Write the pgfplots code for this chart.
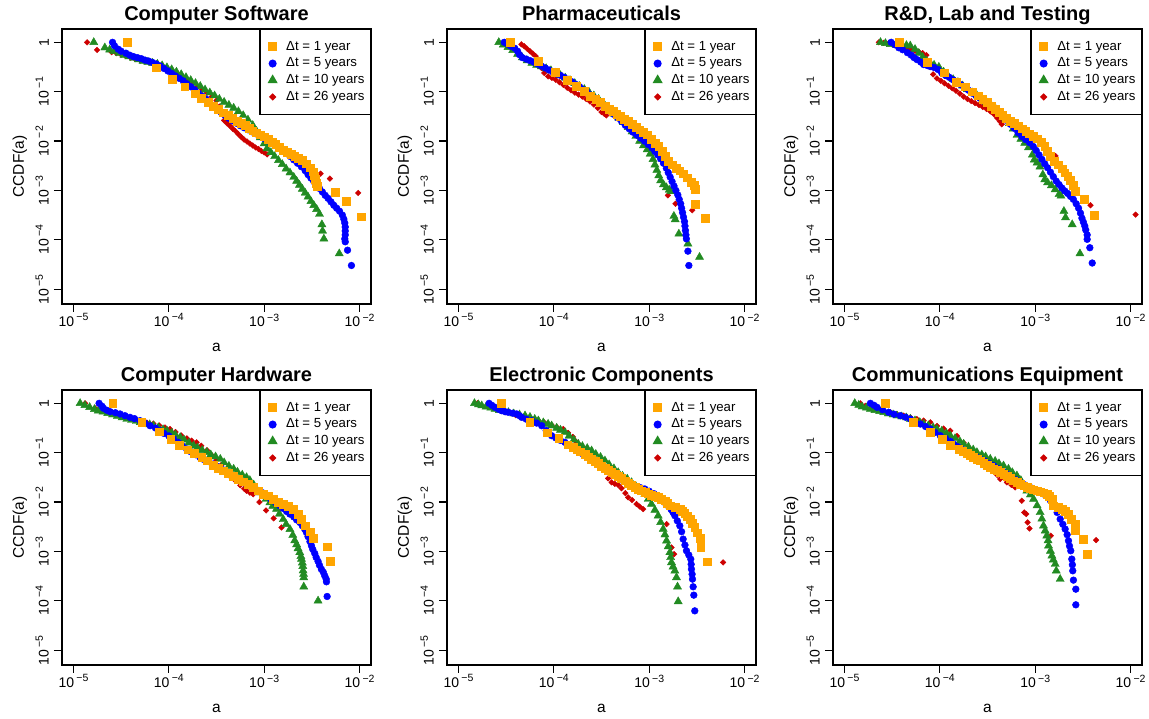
\documentclass[border=0pt]{standalone}
\usepackage{fontspec}
\setmainfont{Liberation Sans}
\usepackage{pgfplots}
\pgfplotsset{compat=1.18}
\definecolor{cOr}{RGB}{255,165,0}
\definecolor{cBl}{RGB}{0,0,255}
\definecolor{cGr}{RGB}{34,139,34}
\definecolor{cRd}{RGB}{205,0,0}
\newcommand{\tp}[1]{10\,\raisebox{0.42em}{\fontsize{10.5}{12}\selectfont −#1}}
\pgfplotsset{
  panel/.style={
    scale only axis, width=309pt, height=275pt,
    xmin=-5.12, xmax=-1.88, ymin=-5.3, ymax=0.27,
    xtick={-5,-4,-3,-2}, xticklabels={\tp{5},\tp{4},\tp{3},\tp{2}},
    ytick={-5,-4,-3,-2,-1,0}, yticklabels={\tp{5},\tp{4},\tp{3},\tp{2},\tp{1},1},
    tick align=outside, major tick length=8pt, tick pos=left,
    axis line style={line width=1.2pt}, tick style={line width=1.2pt, black},
    ticklabel style={font=\fontsize{14}{16}\selectfont},
    yticklabel style={rotate=90, anchor=south, inner ysep=5pt},
    xticklabel style={anchor=north, inner ysep=1.5pt},
    xlabel={a}, ylabel={CCDF(a)},
    label style={font=\fontsize{15.5}{18}\selectfont},
    xlabel style={at={(axis description cs:0.5,-0.1745)}, anchor=base},
    ylabel style={at={(axis description cs:-0.123,0.5)}, anchor=base},
    title style={at={(axis description cs:0.5,1)}, anchor=base, yshift=2.5pt, font=\fontsize{20}{22}\selectfont\bfseries},
    legend style={at={(axis description cs:1,1)}, anchor=north east, draw=black, line width=1.2pt,
      font=\fontsize{13.2}{15}\selectfont, inner xsep=6pt, inner ysep=10.5pt, row sep=3.2pt,
      nodes={inner sep=0pt, text height=10pt, text depth=3.5pt},
      /tikz/every odd column/.append style={column sep=7pt}},
    legend cell align=left, reverse legend,
    legend image code/.code={\path (-6pt,0pt) (6pt,0pt); \draw[##1] plot coordinates {(0pt,0pt)};},
  },
  sOR/.style={only marks, mark=square*, mark size=3.9pt, color=cOr, mark options={draw=none, fill=cOr}},
  sBL/.style={only marks, mark=*, mark size=3.4pt, color=cBl, mark options={draw=none, fill=cBl}},
  sGR/.style={only marks, mark=triangle*, mark size=4.7pt, color=cGr, mark options={draw=none, fill=cGr}},
  sRD/.style={only marks, mark=square*, mark size=2.0pt, color=cRd, mark options={draw=none, fill=cRd, rotate=45}},
}
\begin{document}
\begin{tikzpicture}
\useasboundingbox (0pt,0pt) rectangle (1149pt,718pt);
% ---------------- Panel 1
\begin{axis}[panel, at={(62pt,414pt)}, anchor=south west, title={Computer Software}]
\addplot[sRD] coordinates {(-4.857,0) (-4.752,-0.155) (-4.60,-0.20) (-4.55,-0.22) (-4.50,-0.25) (-4.45,-0.28) (-4.40,-0.31) (-4.35,-0.34) (-4.30,-0.37) (-4.25,-0.39) (-4.20,-0.41) (-4.15,-0.44) (-4.10,-0.48) (-4.05,-0.52) (-4.00,-0.57) (-3.95,-0.61) (-3.90,-0.66) (-3.85,-0.71) (-3.80,-0.77) (-3.75,-0.83) (-3.70,-0.90) (-3.65,-0.96) (-3.60,-1.02) (-3.55,-1.10) (-3.50,-1.18) (-3.47,-1.30) (-3.45,-1.45) (-3.42,-1.58) (-3.39,-1.64) (-3.36,-1.69) (-3.33,-1.75) (-3.30,-1.80) (-3.27,-1.86) (-3.24,-1.92) (-3.21,-1.97) (-3.18,-2.01) (-3.15,-2.05) (-3.12,-2.09) (-3.09,-2.13) (-3.06,-2.16) (-3.03,-2.20) (-3.00,-2.23) (-2.97,-2.27) (-2.409,-2.66) (-2.311,-2.76) (-2.014,-3.05)};
\addlegendentry{Δt = 26 years}
\addplot[sGR] coordinates {(-4.787,0) (-4.671,-0.108) (-4.62,-0.15) (-4.57,-0.18) (-4.52,-0.22) (-4.47,-0.26) (-4.42,-0.29) (-4.37,-0.32) (-4.32,-0.35) (-4.27,-0.38) (-4.22,-0.40) (-4.17,-0.42) (-4.12,-0.44) (-4.07,-0.47) (-4.02,-0.51) (-3.97,-0.55) (-3.92,-0.60) (-3.87,-0.65) (-3.82,-0.71) (-3.77,-0.77) (-3.72,-0.83) (-3.67,-0.89) (-3.62,-0.96) (-3.57,-1.02) (-3.52,-1.08) (-3.47,-1.15) (-3.42,-1.21) (-3.37,-1.27) (-3.32,-1.33) (-3.27,-1.40) (-3.22,-1.48) (-3.17,-1.57) (-3.12,-1.68) (-3.08,-1.80) (-3.04,-1.93) (-3.00,-2.05) (-2.97,-2.15) (-2.93,-2.23) (-2.89,-2.31) (-2.85,-2.39) (-2.81,-2.47) (-2.77,-2.56) (-2.73,-2.64) (-2.69,-2.73) (-2.66,-2.81) (-2.63,-2.89) (-2.60,-2.97) (-2.57,-3.05) (-2.54,-3.13) (-2.51,-3.22) (-2.48,-3.30) (-2.45,-3.38) (-2.42,-3.48) (-2.395,-3.69) (-2.388,-3.82) (-2.374,-3.98) (-2.213,-4.28)};
\addlegendentry{Δt = 10 years}
\addplot[sBL] coordinates {(-4.59,0) (-4.57,-0.07) (-4.53,-0.14) (-4.50,-0.18) (-4.45,-0.22) (-4.41,-0.26) (-4.37,-0.29) (-4.33,-0.31) (-4.29,-0.33) (-4.25,-0.36) (-4.21,-0.38) (-4.17,-0.41) (-4.13,-0.44) (-4.09,-0.48) (-4.05,-0.53) (-4.01,-0.58) (-3.97,-0.63) (-3.93,-0.68) (-3.89,-0.73) (-3.85,-0.78) (-3.81,-0.84) (-3.77,-0.90) (-3.73,-0.96) (-3.69,-1.03) (-3.65,-1.09) (-3.61,-1.15) (-3.57,-1.22) (-3.53,-1.30) (-3.49,-1.36) (-3.45,-1.42) (-3.41,-1.48) (-3.37,-1.54) (-3.33,-1.59) (-3.29,-1.64) (-3.25,-1.69) (-3.21,-1.73) (-3.17,-1.77) (-3.13,-1.81) (-3.09,-1.85) (-3.05,-1.89) (-3.01,-1.94) (-2.97,-1.99) (-2.93,-2.04) (-2.89,-2.08) (-2.85,-2.13) (-2.81,-2.19) (-2.77,-2.25) (-2.73,-2.31) (-2.69,-2.38) (-2.65,-2.45) (-2.61,-2.52) (-2.57,-2.60) (-2.54,-2.68) (-2.51,-2.75) (-2.48,-2.82) (-2.45,-2.89) (-2.42,-2.96) (-2.39,-3.03) (-2.36,-3.10) (-2.33,-3.16) (-2.30,-3.23) (-2.27,-3.30) (-2.24,-3.36) (-2.21,-3.42) (-2.18,-3.50) (-2.165,-3.58) (-2.155,-3.66) (-2.15,-3.74) (-2.15,-3.82) (-2.15,-3.90) (-2.155,-3.98) (-2.15,-4.04) (-2.126,-4.21) (-2.085,-4.52)};
\addlegendentry{Δt = 5 years}
\addplot[sOR] coordinates {(-4.434,0) (-4.129,-0.514) (-3.962,-0.75) (-3.833,-0.90) (-3.727,-1.04) (-3.657,-1.135) (-3.587,-1.21) (-3.535,-1.29) (-3.483,-1.36) (-3.43,-1.426) (-3.38,-1.47) (-3.33,-1.53) (-3.28,-1.59) (-3.24,-1.64) (-3.20,-1.68) (-3.16,-1.74) (-3.12,-1.79) (-3.08,-1.83) (-3.04,-1.87) (-3.00,-1.91) (-2.96,-1.97) (-2.92,-2.03) (-2.88,-2.07) (-2.84,-2.13) (-2.80,-2.18) (-2.76,-2.22) (-2.72,-2.26) (-2.68,-2.30) (-2.64,-2.34) (-2.60,-2.39) (-2.56,-2.46) (-2.52,-2.54) (-2.49,-2.62) (-2.475,-2.70) (-2.465,-2.78) (-2.455,-2.85) (-2.444,-2.91) (-2.259,-3.03) (-2.143,-3.22) (-1.979,-3.53)};
\addlegendentry{Δt = 1 year}
\end{axis}
% ---------------- Panel 2
\begin{axis}[panel, at={(447pt,414pt)}, anchor=south west, title={Pharmaceuticals}]
\addplot[sRD] coordinates {(-4.34,-0.04) (-4.31,-0.08) (-4.28,-0.13) (-4.25,-0.18) (-4.22,-0.23) (-4.19,-0.28) (-4.16,-0.40) (-4.13,-0.52) (-4.10,-0.62) (-4.06,-0.69) (-4.02,-0.72) (-3.98,-0.76) (-3.94,-0.81) (-3.90,-0.86) (-3.86,-0.92) (-3.82,-0.97) (-3.78,-1.02) (-3.74,-1.06) (-3.70,-1.10) (-3.66,-1.15) (-3.62,-1.20) (-3.58,-1.26) (-3.54,-1.33) (-3.50,-1.41) (-3.47,-1.45) (-3.45,-1.48) (-2.804,-3.10) (-2.724,-3.27) (-2.549,-3.40)};
\addlegendentry{Δt = 26 years}
\addplot[sGR] coordinates {(-4.577,0) (-4.53,-0.05) (-4.48,-0.10) (-4.43,-0.16) (-4.38,-0.24) (-4.33,-0.31) (-4.28,-0.37) (-4.23,-0.42) (-4.18,-0.46) (-4.13,-0.49) (-4.08,-0.53) (-4.03,-0.57) (-3.98,-0.62) (-3.93,-0.67) (-3.88,-0.72) (-3.83,-0.77) (-3.78,-0.83) (-3.73,-0.89) (-3.68,-0.95) (-3.63,-1.01) (-3.58,-1.08) (-3.53,-1.15) (-3.48,-1.23) (-3.43,-1.31) (-3.40,-1.38) (-3.37,-1.45) (-3.32,-1.53) (-3.27,-1.62) (-3.22,-1.72) (-3.18,-1.81) (-3.14,-1.90) (-3.10,-2.00) (-3.06,-2.09) (-3.02,-2.17) (-2.99,-2.26) (-2.96,-2.37) (-2.94,-2.48) (-2.92,-2.59) (-2.90,-2.70) (-2.88,-2.80) (-2.85,-2.88) (-2.82,-2.94) (-2.79,-2.99) (-2.77,-3.02) (-2.741,-3.52) (-2.727,-3.59) (-2.689,-3.88) (-2.594,-4.08) (-2.472,-4.35)};
\addlegendentry{Δt = 10 years}
\addplot[sBL] coordinates {(-4.52,0) (-4.48,-0.04) (-4.45,-0.08) (-4.41,-0.12) (-4.38,-0.18) (-4.36,-0.25) (-4.33,-0.31) (-4.29,-0.34) (-4.25,-0.37) (-4.21,-0.40) (-4.17,-0.44) (-4.13,-0.48) (-4.09,-0.52) (-4.05,-0.56) (-4.01,-0.60) (-3.97,-0.64) (-3.93,-0.67) (-3.89,-0.71) (-3.85,-0.75) (-3.81,-0.80) (-3.77,-0.85) (-3.73,-0.90) (-3.69,-0.96) (-3.65,-1.01) (-3.61,-1.07) (-3.57,-1.13) (-3.53,-1.19) (-3.49,-1.26) (-3.45,-1.32) (-3.41,-1.39) (-3.37,-1.46) (-3.33,-1.53) (-3.29,-1.60) (-3.25,-1.68) (-3.21,-1.75) (-3.17,-1.82) (-3.13,-1.88) (-3.09,-1.94) (-3.05,-2.00) (-3.01,-2.07) (-2.97,-2.14) (-2.94,-2.21) (-2.91,-2.28) (-2.88,-2.36) (-2.85,-2.45) (-2.82,-2.55) (-2.80,-2.64) (-2.78,-2.73) (-2.76,-2.82) (-2.74,-2.91) (-2.72,-3.00) (-2.70,-3.09) (-2.685,-3.18) (-2.67,-3.27) (-2.66,-3.36) (-2.65,-3.45) (-2.64,-3.54) (-2.63,-3.63) (-2.625,-3.72) (-2.62,-3.81) (-2.615,-3.90) (-2.61,-3.98) (-2.594,-4.23) (-2.584,-4.52)};
\addlegendentry{Δt = 5 years}
\addplot[sOR] coordinates {(-4.455,0) (-4.161,-0.39) (-3.986,-0.60) (-3.86,-0.77) (-3.762,-0.885) (-3.685,-0.986) (-3.615,-1.088) (-3.56,-1.15) (-3.51,-1.22) (-3.46,-1.29) (-3.42,-1.35) (-3.38,-1.40) (-3.34,-1.46) (-3.30,-1.50) (-3.26,-1.55) (-3.22,-1.60) (-3.18,-1.66) (-3.14,-1.72) (-3.10,-1.77) (-3.06,-1.82) (-3.02,-1.87) (-2.98,-1.97) (-2.94,-2.04) (-2.90,-2.11) (-2.86,-2.20) (-2.83,-2.30) (-2.80,-2.40) (-2.76,-2.48) (-2.72,-2.55) (-2.68,-2.60) (-2.64,-2.66) (-2.60,-2.74) (-2.56,-2.83) (-2.53,-2.90) (-2.52,-2.98) (-2.517,-3.28) (-2.409,-3.57)};
\addlegendentry{Δt = 1 year}
\end{axis}
% ---------------- Panel 3
\begin{axis}[panel, at={(833pt,414pt)}, anchor=south west, title={R\&D, Lab and Testing}]
\addplot[sRD] coordinates {(-4.64,0) (-4.59,-0.01) (-4.54,-0.02) (-4.49,-0.05) (-4.44,-0.08) (-4.39,-0.11) (-4.34,-0.13) (-4.30,-0.15) (-4.26,-0.17) (-4.22,-0.19) (-4.18,-0.22) (-4.14,-0.26) (-4.12,-0.38) (-4.10,-0.50) (-4.07,-0.65) (-4.03,-0.73) (-3.99,-0.78) (-3.95,-0.83) (-3.91,-0.88) (-3.87,-0.93) (-3.83,-0.98) (-3.79,-1.04) (-3.75,-1.10) (-3.71,-1.15) (-3.67,-1.19) (-3.63,-1.23) (-3.59,-1.27) (-3.55,-1.31) (-3.51,-1.35) (-3.47,-1.40) (-3.43,-1.46) (-3.40,-1.53) (-3.37,-1.60) (-3.35,-1.66) (-2.899,-2.09) (-2.787,-2.30) (-2.42,-3.30) (-1.948,-3.49)};
\addlegendentry{Δt = 26 years}
\addplot[sGR] coordinates {(-4.622,0) (-4.57,-0.02) (-4.52,-0.04) (-4.46,-0.05) (-4.40,-0.055) (-4.35,-0.06) (-4.31,-0.07) (-4.26,-0.14) (-4.22,-0.22) (-4.18,-0.30) (-4.14,-0.37) (-4.10,-0.42) (-4.06,-0.46) (-4.01,-0.50) (-3.96,-0.60) (-3.91,-0.69) (-3.86,-0.75) (-3.81,-0.81) (-3.76,-0.88) (-3.71,-0.95) (-3.66,-1.02) (-3.61,-1.08) (-3.56,-1.14) (-3.51,-1.21) (-3.46,-1.28) (-3.41,-1.36) (-3.36,-1.45) (-3.31,-1.55) (-3.27,-1.64) (-3.23,-1.75) (-3.19,-1.88) (-3.15,-1.96) (-3.11,-2.04) (-3.07,-2.13) (-3.03,-2.28) (-3.01,-2.38) (-2.98,-2.44) (-2.95,-2.52) (-2.92,-2.68) (-2.90,-2.78) (-2.87,-2.84) (-2.83,-2.90) (-2.79,-2.98) (-2.75,-3.08) (-2.73,-3.11) (-2.699,-3.42) (-2.682,-3.55) (-2.612,-3.69) (-2.531,-4.28)};
\addlegendentry{Δt = 10 years}
\addplot[sBL] coordinates {(-4.51,0) (-4.47,-0.05) (-4.43,-0.11) (-4.39,-0.15) (-4.34,-0.21) (-4.30,-0.26) (-4.27,-0.31) (-4.24,-0.35) (-4.20,-0.40) (-4.17,-0.45) (-4.13,-0.47) (-4.10,-0.49) (-4.06,-0.51) (-4.02,-0.55) (-3.98,-0.62) (-3.94,-0.67) (-3.90,-0.71) (-3.86,-0.76) (-3.82,-0.81) (-3.78,-0.86) (-3.74,-0.92) (-3.70,-0.97) (-3.66,-1.03) (-3.62,-1.08) (-3.58,-1.13) (-3.54,-1.18) (-3.50,-1.24) (-3.46,-1.30) (-3.42,-1.36) (-3.38,-1.44) (-3.34,-1.51) (-3.30,-1.58) (-3.26,-1.66) (-3.22,-1.74) (-3.18,-1.83) (-3.14,-1.91) (-3.10,-1.97) (-3.06,-2.03) (-3.02,-2.11) (-2.99,-2.19) (-2.96,-2.28) (-2.93,-2.37) (-2.90,-2.46) (-2.87,-2.54) (-2.84,-2.63) (-2.81,-2.72) (-2.78,-2.81) (-2.75,-2.88) (-2.72,-2.95) (-2.69,-3.01) (-2.66,-3.06) (-2.63,-3.12) (-2.60,-3.18) (-2.57,-3.27) (-2.545,-3.36) (-2.525,-3.46) (-2.51,-3.56) (-2.495,-3.64) (-2.48,-3.72) (-2.47,-3.80) (-2.455,-3.90) (-2.455,-3.99) (-2.427,-4.16) (-2.402,-4.47)};
\addlegendentry{Δt = 5 years}
\addplot[sOR] coordinates {(-4.43,0) (-4.133,-0.41) (-3.958,-0.615) (-3.829,-0.80) (-3.731,-0.90) (-3.661,-1.0) (-3.60,-1.08) (-3.55,-1.15) (-3.50,-1.22) (-3.46,-1.29) (-3.42,-1.35) (-3.38,-1.41) (-3.34,-1.47) (-3.30,-1.53) (-3.26,-1.59) (-3.22,-1.64) (-3.18,-1.69) (-3.14,-1.75) (-3.10,-1.80) (-3.06,-1.85) (-3.02,-1.90) (-2.98,-1.95) (-2.94,-2.02) (-2.90,-2.10) (-2.87,-2.20) (-2.84,-2.30) (-2.80,-2.40) (-2.76,-2.48) (-2.72,-2.56) (-2.69,-2.64) (-2.66,-2.71) (-2.63,-2.80) (-2.60,-2.90) (-2.577,-3.01) (-2.49,-3.18) (-2.385,-3.50)};
\addlegendentry{Δt = 1 year}
\end{axis}
% ---------------- Panel 4
\begin{axis}[panel, at={(62pt,53pt)}, anchor=south west, title={Computer Hardware}]
\addplot[sRD] coordinates {(-4.878,0) (-4.773,-0.10) (-4.65,-0.17) (-4.58,-0.20) (-4.51,-0.24) (-4.44,-0.28) (-4.37,-0.32) (-4.30,-0.36) (-4.23,-0.39) (-4.162,-0.41) (-4.10,-0.45) (-4.04,-0.49) (-3.988,-0.52) (-3.93,-0.58) (-3.87,-0.65) (-3.81,-0.71) (-3.761,-0.757) (-3.709,-0.79) (-3.66,-0.86) (-3.60,-0.95) (-3.55,-1.05) (-3.50,-1.15) (-3.45,-1.25) (-3.40,-1.36) (-3.35,-1.47) (-3.30,-1.57) (-3.25,-1.66) (-3.21,-1.73) (-3.185,-1.77) (-3.15,-1.81) (-3.115,-1.84) (-3.05,-2.0) (-2.98,-2.17) (-2.90,-2.33) (-2.818,-2.514)};
\addlegendentry{Δt = 26 years}
\addplot[sGR] coordinates {(-4.93,0) (-4.88,-0.04) (-4.83,-0.08) (-4.78,-0.12) (-4.74,-0.15) (-4.69,-0.17) (-4.64,-0.20) (-4.59,-0.23) (-4.54,-0.26) (-4.49,-0.29) (-4.44,-0.32) (-4.39,-0.34) (-4.34,-0.36) (-4.30,-0.385) (-4.25,-0.41) (-4.20,-0.43) (-4.16,-0.455) (-4.11,-0.49) (-4.06,-0.53) (-4.02,-0.555) (-3.97,-0.60) (-3.93,-0.64) (-3.88,-0.69) (-3.84,-0.74) (-3.79,-0.80) (-3.74,-0.86) (-3.70,-0.90) (-3.65,-0.95) (-3.60,-0.99) (-3.56,-1.04) (-3.51,-1.08) (-3.46,-1.13) (-3.42,-1.20) (-3.37,-1.27) (-3.32,-1.33) (-3.28,-1.39) (-3.23,-1.45) (-3.185,-1.50) (-3.15,-1.56) (-3.11,-1.65) (-3.08,-1.74) (-3.04,-1.81) (-3.01,-1.87) (-2.98,-1.94) (-2.94,-2.01) (-2.91,-2.08) (-2.87,-2.14) (-2.84,-2.24) (-2.80,-2.35) (-2.77,-2.45) (-2.73,-2.55) (-2.70,-2.67) (-2.68,-2.78) (-2.66,-2.86) (-2.645,-2.94) (-2.627,-3.02) (-2.615,-3.10) (-2.609,-3.155) (-2.60,-3.23) (-2.595,-3.30) (-2.592,-3.39) (-2.587,-3.46) (-2.585,-3.53) (-2.585,-3.716) (-2.435,-4.0)};
\addlegendentry{Δt = 10 years}
\addplot[sBL] coordinates {(-4.731,0) (-4.70,-0.06) (-4.686,-0.10) (-4.65,-0.14) (-4.616,-0.169) (-4.56,-0.19) (-4.511,-0.216) (-4.46,-0.25) (-4.407,-0.284) (-4.36,-0.31) (-4.302,-0.351) (-4.25,-0.40) (-4.197,-0.453) (-4.14,-0.50) (-4.092,-0.554) (-4.05,-0.61) (-4.00,-0.66) (-3.95,-0.72) (-3.90,-0.79) (-3.86,-0.86) (-3.813,-0.926) (-3.77,-0.98) (-3.72,-1.04) (-3.674,-1.095) (-3.63,-1.14) (-3.58,-1.18) (-3.534,-1.23) (-3.49,-1.28) (-3.44,-1.34) (-3.394,-1.40) (-3.35,-1.46) (-3.30,-1.51) (-3.255,-1.568) (-3.21,-1.61) (-3.16,-1.655) (-3.115,-1.703) (-3.07,-1.76) (-3.02,-1.81) (-2.976,-1.872) (-2.93,-1.94) (-2.88,-2.01) (-2.836,-2.074) (-2.80,-2.13) (-2.765,-2.19) (-2.731,-2.243) (-2.69,-2.30) (-2.66,-2.36) (-2.627,-2.412) (-2.60,-2.48) (-2.575,-2.55) (-2.557,-2.615) (-2.54,-2.70) (-2.52,-2.80) (-2.504,-2.885) (-2.49,-2.96) (-2.47,-3.04) (-2.455,-3.12) (-2.435,-3.20) (-2.42,-3.28) (-2.40,-3.36) (-2.38,-3.42) (-2.365,-3.493) (-2.35,-3.56) (-2.347,-3.615) (-2.34,-3.912)};
\addlegendentry{Δt = 5 years}
\addplot[sOR] coordinates {(-4.588,0) (-4.284,-0.385) (-4.103,-0.574) (-3.981,-0.723) (-3.89,-0.845) (-3.803,-0.939) (-3.733,-1.014) (-3.656,-1.095) (-3.597,-1.162) (-3.534,-1.25) (-3.482,-1.318) (-3.429,-1.365) (-3.377,-1.419) (-3.325,-1.48) (-3.272,-1.534) (-3.22,-1.588) (-3.168,-1.635) (-3.115,-1.703) (-3.063,-1.77) (-3.01,-1.838) (-2.958,-1.872) (-2.906,-1.939) (-2.853,-2.007) (-2.801,-2.041) (-2.749,-2.088) (-2.696,-2.142) (-2.644,-2.243) (-2.609,-2.345) (-2.574,-2.48) (-2.515,-2.601) (-2.487,-2.736) (-2.34,-2.905) (-2.312,-3.203)};
\addlegendentry{Δt = 1 year}
\end{axis}
% ---------------- Panel 5
\begin{axis}[panel, at={(447pt,53pt)}, anchor=south west, title={Electronic Components}]
\addplot[sRD] coordinates {(-4.80,0) (-4.70,-0.06) (-4.60,-0.12) (-4.50,-0.18) (-4.40,-0.24) (-4.30,-0.30) (-4.23,-0.33) (-4.162,-0.351) (-4.10,-0.39) (-4.023,-0.44) (-3.97,-0.48) (-3.90,-0.52) (-3.85,-0.60) (-3.80,-0.68) (-3.77,-0.77) (-3.72,-0.86) (-3.67,-0.95) (-3.62,-1.04) (-3.57,-1.13) (-3.52,-1.22) (-3.47,-1.31) (-3.43,-1.52) (-3.394,-1.601) (-3.36,-1.63) (-3.325,-1.655) (-3.29,-1.72) (-3.25,-1.82) (-3.22,-1.905) (-3.18,-1.96) (-3.133,-2.041) (-3.10,-2.09) (-3.063,-2.142) (-2.818,-2.446) (-2.766,-2.919) (-2.738,-3.054) (-2.225,-3.223)};
\addlegendentry{Δt = 26 years}
\addplot[sGR] coordinates {(-4.832,0) (-4.79,-0.025) (-4.756,-0.047) (-4.71,-0.07) (-4.66,-0.09) (-4.616,-0.115) (-4.57,-0.14) (-4.52,-0.16) (-4.476,-0.182) (-4.42,-0.21) (-4.36,-0.23) (-4.302,-0.25) (-4.25,-0.28) (-4.20,-0.32) (-4.162,-0.351) (-4.11,-0.39) (-4.06,-0.42) (-4.023,-0.453) (-3.97,-0.50) (-3.93,-0.54) (-3.883,-0.588) (-3.84,-0.66) (-3.79,-0.74) (-3.743,-0.824) (-3.70,-0.87) (-3.65,-0.91) (-3.604,-0.959) (-3.56,-1.03) (-3.51,-1.09) (-3.464,-1.162) (-3.42,-1.24) (-3.37,-1.32) (-3.325,-1.399) (-3.28,-1.47) (-3.23,-1.53) (-3.185,-1.601) (-3.14,-1.68) (-3.09,-1.76) (-3.045,-1.838) (-3.01,-1.94) (-2.976,-2.041) (-2.94,-2.16) (-2.906,-2.277) (-2.88,-2.41) (-2.853,-2.547) (-2.835,-2.66) (-2.818,-2.784) (-2.80,-2.90) (-2.783,-3.02) (-2.775,-3.12) (-2.766,-3.223) (-2.75,-3.31) (-2.731,-3.392) (-2.714,-3.527) (-2.703,-3.716) (-2.696,-4.014)};
\addlegendentry{Δt = 10 years}
\addplot[sBL] coordinates {(-4.679,0) (-4.65,-0.04) (-4.616,-0.081) (-4.58,-0.12) (-4.546,-0.149) (-4.51,-0.17) (-4.476,-0.182) (-4.43,-0.20) (-4.389,-0.216) (-4.36,-0.25) (-4.337,-0.284) (-4.29,-0.32) (-4.232,-0.351) (-4.18,-0.40) (-4.127,-0.453) (-4.08,-0.55) (-4.023,-0.655) (-3.98,-0.70) (-3.93,-0.75) (-3.883,-0.791) (-3.84,-0.85) (-3.79,-0.90) (-3.743,-0.959) (-3.70,-1.02) (-3.65,-1.07) (-3.604,-1.128) (-3.56,-1.20) (-3.51,-1.26) (-3.464,-1.331) (-3.42,-1.39) (-3.37,-1.45) (-3.325,-1.50) (-3.28,-1.56) (-3.23,-1.62) (-3.185,-1.669) (-3.14,-1.69) (-3.09,-1.71) (-3.045,-1.736) (-3.00,-1.78) (-2.95,-1.83) (-2.906,-1.872) (-2.87,-1.94) (-2.835,-2.01) (-2.801,-2.074) (-2.77,-2.15) (-2.75,-2.21) (-2.731,-2.277) (-2.705,-2.38) (-2.679,-2.48) (-2.66,-2.60) (-2.644,-2.75) (-2.625,-2.87) (-2.609,-2.986) (-2.585,-3.07) (-2.564,-3.155) (-2.56,-3.26) (-2.557,-3.358) (-2.55,-3.46) (-2.546,-3.561) (-2.539,-3.716) (-2.532,-3.885) (-2.522,-4.203)};
\addlegendentry{Δt = 5 years}
\addplot[sOR] coordinates {(-4.553,0) (-4.253,-0.385) (-4.072,-0.595) (-3.949,-0.709) (-3.855,-0.838) (-3.80,-0.89) (-3.761,-0.939) (-3.72,-0.98) (-3.674,-1.027) (-3.64,-1.08) (-3.604,-1.128) (-3.57,-1.17) (-3.534,-1.216) (-3.50,-1.27) (-3.464,-1.318) (-3.43,-1.36) (-3.394,-1.399) (-3.36,-1.44) (-3.325,-1.48) (-3.29,-1.52) (-3.255,-1.568) (-3.22,-1.61) (-3.185,-1.655) (-3.15,-1.70) (-3.115,-1.736) (-3.08,-1.77) (-3.045,-1.804) (-3.01,-1.83) (-2.976,-1.858) (-2.94,-1.88) (-2.906,-1.905) (-2.87,-1.94) (-2.836,-1.973) (-2.81,-2.02) (-2.783,-2.074) (-2.73,-2.10) (-2.679,-2.142) (-2.65,-2.18) (-2.627,-2.223) (-2.60,-2.28) (-2.574,-2.345) (-2.55,-2.43) (-2.522,-2.514) (-2.50,-2.62) (-2.469,-2.736) (-2.459,-2.919) (-2.389,-3.209)};
\addlegendentry{Δt = 1 year}
\end{axis}
% ---------------- Panel 6
\begin{axis}[panel, at={(833pt,53pt)}, anchor=south west, title={Communications Equipment}]
\addplot[sRD] coordinates {(-4.833,0) (-4.78,-0.05) (-4.72,-0.09) (-4.66,-0.12) (-4.60,-0.15) (-4.518,-0.182) (-4.45,-0.22) (-4.38,-0.25) (-4.309,-0.284) (-4.24,-0.32) (-4.17,-0.35) (-4.10,-0.385) (-4.03,-0.46) (-3.96,-0.51) (-3.89,-0.554) (-3.82,-0.66) (-3.75,-0.80) (-3.681,-0.926) (-3.64,-0.98) (-3.60,-1.04) (-3.55,-1.12) (-3.50,-1.22) (-3.45,-1.33) (-3.40,-1.45) (-3.367,-1.534) (-3.297,-1.601) (-3.25,-1.65) (-3.21,-1.703) (-3.14,-1.973) (-3.115,-2.209) (-3.094,-2.243) (-3.08,-2.412) (-3.06,-2.534) (-2.836,-2.682) (-2.361,-2.77)};
\addlegendentry{Δt = 26 years}
\addplot[sGR] coordinates {(-4.892,0) (-4.85,-0.035) (-4.815,-0.068) (-4.77,-0.09) (-4.728,-0.115) (-4.68,-0.14) (-4.63,-0.16) (-4.588,-0.182) (-4.54,-0.21) (-4.49,-0.23) (-4.449,-0.25) (-4.40,-0.27) (-4.35,-0.29) (-4.309,-0.318) (-4.26,-0.35) (-4.21,-0.385) (-4.169,-0.419) (-4.12,-0.45) (-4.07,-0.49) (-4.03,-0.52) (-3.98,-0.56) (-3.93,-0.61) (-3.89,-0.655) (-3.84,-0.71) (-3.79,-0.77) (-3.75,-0.824) (-3.70,-0.88) (-3.65,-0.94) (-3.611,-0.993) (-3.56,-1.04) (-3.52,-1.08) (-3.471,-1.128) (-3.42,-1.17) (-3.38,-1.22) (-3.332,-1.264) (-3.28,-1.33) (-3.24,-1.40) (-3.192,-1.466) (-3.15,-1.56) (-3.12,-1.66) (-3.087,-1.77) (-3.05,-1.85) (-3.017,-1.939) (-2.98,-2.07) (-2.948,-2.209) (-2.93,-2.34) (-2.913,-2.48) (-2.895,-2.58) (-2.878,-2.682) (-2.865,-2.78) (-2.86,-2.885) (-2.84,-2.99) (-2.825,-3.088) (-2.81,-3.17) (-2.79,-3.257) (-2.779,-3.392) (-2.738,-3.561)};
\addlegendentry{Δt = 10 years}
\addplot[sBL] coordinates {(-4.728,0) (-4.69,-0.04) (-4.658,-0.081) (-4.60,-0.13) (-4.536,-0.182) (-4.48,-0.22) (-4.414,-0.25) (-4.36,-0.28) (-4.309,-0.318) (-4.26,-0.37) (-4.204,-0.419) (-4.15,-0.47) (-4.10,-0.52) (-4.05,-0.59) (-3.995,-0.655) (-3.94,-0.71) (-3.89,-0.77) (-3.855,-0.824) (-3.81,-0.88) (-3.76,-0.94) (-3.716,-0.993) (-3.67,-1.04) (-3.62,-1.08) (-3.576,-1.128) (-3.53,-1.17) (-3.48,-1.22) (-3.436,-1.264) (-3.39,-1.32) (-3.34,-1.38) (-3.297,-1.432) (-3.25,-1.49) (-3.20,-1.55) (-3.157,-1.601) (-3.11,-1.65) (-3.06,-1.69) (-3.017,-1.736) (-2.97,-1.78) (-2.92,-1.83) (-2.878,-1.872) (-2.84,-1.97) (-2.808,-2.074) (-2.77,-2.21) (-2.738,-2.345) (-2.71,-2.45) (-2.686,-2.547) (-2.665,-2.66) (-2.651,-2.784) (-2.64,-2.89) (-2.627,-2.986) (-2.616,-3.155) (-2.61,-3.27) (-2.606,-3.392) (-2.599,-3.581) (-2.574,-3.764) (-2.574,-4.081)};
\addlegendentry{Δt = 5 years}
\addplot[sOR] coordinates {(-4.571,0) (-4.281,-0.385) (-4.103,-0.588) (-3.977,-0.723) (-3.89,-0.845) (-3.803,-0.926) (-3.76,-0.97) (-3.716,-1.007) (-3.68,-1.05) (-3.646,-1.095) (-3.61,-1.13) (-3.576,-1.162) (-3.54,-1.21) (-3.506,-1.25) (-3.47,-1.29) (-3.436,-1.331) (-3.40,-1.36) (-3.367,-1.399) (-3.33,-1.44) (-3.297,-1.48) (-3.26,-1.52) (-3.227,-1.568) (-3.19,-1.60) (-3.157,-1.635) (-3.12,-1.67) (-3.087,-1.703) (-3.05,-1.73) (-3.017,-1.75) (-2.98,-1.77) (-2.948,-1.791) (-2.91,-1.81) (-2.878,-1.838) (-2.85,-1.88) (-2.825,-1.939) (-2.808,-2.074) (-2.76,-2.10) (-2.721,-2.142) (-2.686,-2.19) (-2.651,-2.243) (-2.62,-2.34) (-2.581,-2.446) (-2.581,-2.581) (-2.494,-2.75) (-2.452,-3.054)};
\addlegendentry{Δt = 1 year}
\end{axis}
\end{tikzpicture}
\end{document}
